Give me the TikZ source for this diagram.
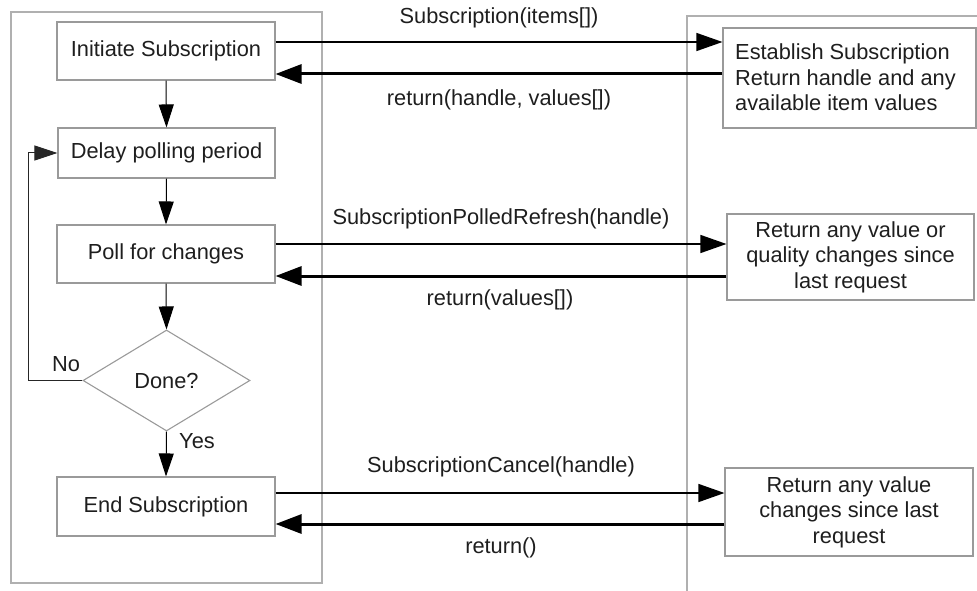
\documentclass[tikz,border=0pt]{standalone}
\usepackage{fontspec}
\setmainfont{Liberation Sans}
\usetikzlibrary{shapes.geometric,arrows.meta,calc}
\definecolor{boxgray}{HTML}{9A9A9A}
\definecolor{panelgray}{HTML}{B0B0B0}
\definecolor{txt}{HTML}{1E1E1E}
\begin{document}
\begin{tikzpicture}[x=1pt,y=-1pt,
  every node/.style={font=\fontsize{21.8}{25.5}\selectfont, text=txt},
  flowbox/.style={draw=boxgray, line width=1.1pt, rectangle, inner sep=0pt},
  panel/.style={draw=panelgray, line width=1.1pt},
  vflow/.style={draw=black, line width=1pt, -{Triangle[length=23pt,width=15pt]}},
  loopline/.style={draw=black!85, line width=1pt, -{Triangle[length=23pt,width=15pt]}},
  fwd/.style={draw=black, line width=1.3pt, -{Triangle[length=26pt,width=18pt]}},
  ret/.style={draw=black, line width=3pt, -{Triangle[length=26pt,width=19pt]}},
  lbl/.style={inner sep=0pt}
]
\useasboundingbox (0,0) rectangle (977,591);
% panels
\draw[panel] (11,12) rectangle (322,583);
\draw[panel] (977,16) -- (687,16) -- (687,591);

% left flow nodes
\node[flowbox, minimum width=218pt, minimum height=58pt] (b1) at (166,51) {Initiate Subscription};
\node[flowbox, minimum width=217pt, minimum height=50pt] (b2) at (166.5,153) {Delay polling period};
\node[flowbox, minimum width=218pt, minimum height=58pt] (b3) at (166,254) {Poll for changes};
\node[draw=boxgray, line width=1.1pt, diamond, inner sep=0pt, minimum width=167pt, minimum height=101pt] (d) at (166.5,380.5) {Done?};
\node[flowbox, minimum width=218pt, minimum height=59pt] (b4) at (166,506.5) {End Subscription};

% right boxes
\node[flowbox, minimum width=253pt, minimum height=100pt] (r1) at (849.5,78) {};
\node[lbl, anchor=west, align=left] (r1t) at (735,77.5) {Establish Subscription\\Return handle and any\\available item values};
\node[flowbox, minimum width=247pt, minimum height=86pt, align=center] (r2) at (850.5,257) {Return any value or\\quality changes since\\last request};
\node[flowbox, minimum width=248pt, minimum height=88pt, align=center] (r3) at (849,512) {Return any value\\changes since last\\request};

% vertical flow
\draw[vflow] (b1.south) -- (b2.north);
\draw[vflow] (b2.south) -- (b3.north);
\draw[vflow] (b3.south) -- (d.north);
\draw[vflow] (d.south) -- (b4.north);
\coordinate (lp) at (28,380.5);
\draw[loopline] (d.west) -- (lp) |- (b2.west);
\node[lbl] (no) at (66,364) {No};
\node[lbl] (yes) at (197,441) {Yes};

% row 1
\path ([yshift=9pt]b1.east) coordinate (f1) ([yshift=-23pt]b1.east) coordinate (k1);
\draw[fwd] (f1) -- (f1 -| r1.west);
\draw[ret] (k1 -| r1.west) -- (k1);
\node[lbl] (m1) at (499,18) {Subscription(items[])};
\node[lbl] (m2) at (499,100) {return(handle, values[])};

% row 2
\path ([yshift=10pt]b3.east) coordinate (f2) ([yshift=-22pt]b3.east) coordinate (k2);
\draw[fwd] (f2) -- (f2 -| r2.west);
\draw[ret] (k2 -| r2.west) -- (k2);
\node[lbl] (m3) at (501,219) {SubscriptionPolledRefresh(handle)};
\node[lbl] (m4) at (500,300) {return(values[])};

% row 3
\path ([yshift=13.5pt]b4.east) coordinate (f3) ([yshift=-17.5pt]b4.east) coordinate (k3);
\draw[fwd] (f3) -- (f3 -| r3.west);
\draw[ret] (k3 -| r3.west) -- (k3);
\node[lbl] (m5) at (501,467) {SubscriptionCancel(handle)};
\node[lbl] (m6) at (501,548) {return()};
\end{tikzpicture}
\end{document}
